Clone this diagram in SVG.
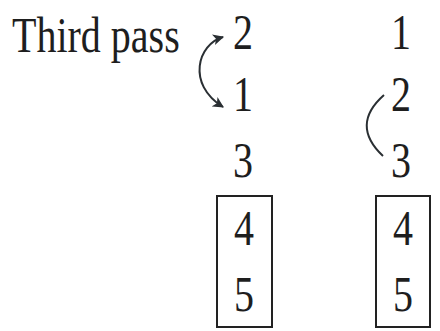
<svg xmlns="http://www.w3.org/2000/svg" width="440" height="331" viewBox="0 0 440 331">
<style>
text{font-family:"Liberation Serif","DejaVu Serif",serif;font-size:40px;fill:#1e1e1e}
.d{text-anchor:middle}
.box{fill:none;stroke:#222;stroke-width:2}
.con{fill:none;stroke:#2a2f33;stroke-width:2}
</style>
<defs>
<marker id="ah" viewBox="0 0 10 10" refX="9" refY="5" markerWidth="5.5" markerHeight="5.5" markerUnits="strokeWidth" orient="auto-start-reverse">
<path d="M0,0 L10,5 L0,10 L2.5,5 Z" fill="#2a2f33"/>
</marker>
</defs>
<rect width="440" height="331" fill="#fff"/>
<g id="label"><text transform="translate(12,52) scale(1,1.27)">Third pass</text></g>
<g id="col1">
<g id="c1-2"><text class="d" transform="translate(243,49) scale(1,1.27)">2</text></g>
<g id="c1-1"><text class="d" transform="translate(243,111) scale(1,1.27)">1</text></g>
<g id="c1-3"><text class="d" transform="translate(243,177) scale(1,1.27)">3</text></g>
<g id="c1-box"><rect class="box" x="217" y="196" width="55" height="131"/>
<text class="d" transform="translate(244,245) scale(1,1.27)">4</text>
<text class="d" transform="translate(244,311) scale(1,1.27)">5</text></g>
</g>
<g id="col2">
<g id="c2-1"><text class="d" transform="translate(401,49) scale(1,1.27)">1</text></g>
<g id="c2-2"><text class="d" transform="translate(401,111) scale(1,1.27)">2</text></g>
<g id="c2-3"><text class="d" transform="translate(401,177) scale(1,1.27)">3</text></g>
<g id="c2-box"><rect class="box" x="376" y="196" width="54" height="131"/>
<text class="d" transform="translate(403,245) scale(1,1.27)">4</text>
<text class="d" transform="translate(403,311) scale(1,1.27)">5</text></g>
</g>
<g id="connectors">
<path class="con" d="M223,37 C198,44 186,84 223,107" marker-start="url(#ah)" marker-end="url(#ah)"/>
<path class="con" d="M384,95 Q350,125 383,156"/>
</g>
</svg>
